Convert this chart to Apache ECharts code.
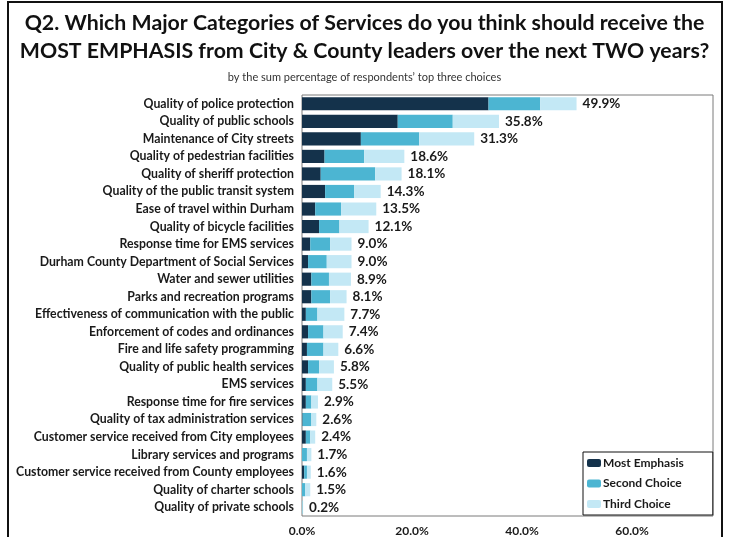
<!DOCTYPE html>
<html>
<head>
<meta charset="utf-8">
<script src="https://cdn.jsdelivr.net/npm/echarts@6/dist/echarts.min.js"></script>
<style>
  html, body { margin: 0; padding: 0; background: #ffffff; }
  #chart { width: 729px; height: 537px; }
</style>
</head>
<body>
<div id="chart"></div>
<script>
// Service categories, ranked by combined share of top-three choices
var categories = [
  'Quality of police protection',
  'Quality of public schools',
  'Maintenance of City streets',
  'Quality of pedestrian facilities',
  'Quality of sheriff protection',
  'Quality of the public transit system',
  'Ease of travel within Durham',
  'Quality of bicycle facilities',
  'Response time for EMS services',
  'Durham County Department of Social Services',
  'Water and sewer utilities',
  'Parks and recreation programs',
  'Effectiveness of communication with the public',
  'Enforcement of codes and ordinances',
  'Fire and life safety programming',
  'Quality of public health services',
  'EMS services',
  'Response time for fire services',
  'Quality of tax administration services',
  'Customer service received from City employees',
  'Library services and programs',
  'Customer service received from County employees',
  'Quality of charter schools',
  'Quality of private schools'
];

// Percent of respondents choosing each item first, second and third
var mostEmphasis = [33.9, 17.4, 10.7, 4.1, 3.4, 4.2, 2.4, 3.1, 1.5, 1.1, 1.7, 1.7, 0.7, 1.1, 0.9, 1.1, 0.7, 0.7, 0.1, 0.7, 0.0, 0.4, 0.0, 0.0];
var secondChoice = [9.4, 10.0, 10.6, 7.2, 9.9, 5.3, 4.7, 3.7, 3.6, 3.4, 3.2, 3.4, 2.1, 2.8, 3.0, 2.0, 2.1, 1.0, 1.6, 0.8, 0.9, 0.5, 0.6, 0.1];
var thirdChoice  = [6.6, 8.4, 10.0, 7.3, 4.8, 4.8, 6.4, 5.3, 3.9, 4.5, 4.0, 3.0, 4.9, 3.5, 2.7, 2.7, 2.7, 1.2, 0.9, 0.9, 0.8, 0.7, 0.9, 0.1];

var seriesNames = ['Most Emphasis', 'Second Choice', 'Third Choice'];
var xTicks = [0, 20, 40, 60];

var FONT = 'Lato';
var chart = echarts.init(document.getElementById('chart'));

function totalOf(i) {
  return (mostEmphasis[i] + secondChoice[i] + thirdChoice[i]).toFixed(1) + '%';
}

function barSeries(name, data, color, withTotal) {
  return {
    name: name,
    type: 'bar',
    stack: 'sum',
    data: data,
    barCategoryGap: '25%',
    itemStyle: { color: color },
    emphasis: { disabled: true },
    label: withTotal ? {
      show: true,
      position: 'right',
      distance: 6,
      color: '#1a1a1a',
      fontFamily: FONT,
      fontWeight: 'bold',
      fontSize: 13.5,
      formatter: function (p) { return totalOf(p.dataIndex); }
    } : { show: false }
  };
}

chart.setOption({
  animation: false,
  backgroundColor: '#ffffff',
  title: [
    {
      text: 'Q2. Which Major Categories of Services do you think should receive the\nMOST EMPHASIS from City & County leaders over the next TWO years?',
      left: 'center',
      top: 4,
      textStyle: { fontFamily: FONT, fontWeight: 'bold', fontSize: 21.3, color: '#111111', lineHeight: 28 }
    },
    {
      text: 'by the sum percentage of respondents\u2019 top three choices',
      left: 'center',
      top: 67,
      textStyle: { fontFamily: FONT, fontWeight: 'normal', fontSize: 11, color: '#333333' }
    }
  ],
  graphic: [
    {
      type: 'rect',
      shape: { x: 8, y: 2, width: 714, height: 560 },
      style: { fill: 'none', stroke: '#111111', lineWidth: 2 },
      silent: true
    }
  ],
  legend: {
    orient: 'vertical',
    left: 583,
    top: 452,
    data: seriesNames,
    itemWidth: 14,
    itemHeight: 8,
    itemGap: 8.5,
    padding: [5, 29, 5, 4],
    backgroundColor: '#ffffff',
    borderColor: '#111111',
    borderWidth: 1,
    borderRadius: 0,
    selectedMode: false,
    textStyle: { fontFamily: FONT, fontWeight: 'bold', fontSize: 12, color: '#1a1a1a', padding: [0, 0, 0, -3] }
  },
  grid: {
    left: 302,
    top: 95,
    right: 16,
    bottom: 21,
    show: true,
    borderColor: '#7a7a7a',
    borderWidth: 1,
    backgroundColor: 'transparent'
  },
  xAxis: {
    type: 'value',
    min: 0,
    max: 74.7,
    interval: 20,
    axisLine: { show: false },
    axisTick: { show: false },
    splitLine: { show: false },
    axisLabel: {
      margin: 9,
      showMaxLabel: false,
      fontFamily: FONT,
      fontWeight: 'bold',
      fontSize: 12,
      color: '#1a1a1a',
      formatter: function (v) { return xTicks.indexOf(v) >= 0 ? v.toFixed(1) + '%' : ''; }
    }
  },
  yAxis: {
    type: 'category',
    data: categories,
    inverse: true,
    axisLine: { show: false },
    axisTick: { show: false },
    axisLabel: {
      margin: 8,
      fontFamily: FONT,
      fontWeight: 'bold',
      fontSize: 12.3,
      color: '#1a1a1a'
    }
  },
  series: [
    barSeries(seriesNames[0], mostEmphasis, '#14324b', false),
    barSeries(seriesNames[1], secondChoice, '#4cb5d2', false),
    barSeries(seriesNames[2], thirdChoice, '#c3e8f5', true)
  ]
});
</script>
</body>
</html>
